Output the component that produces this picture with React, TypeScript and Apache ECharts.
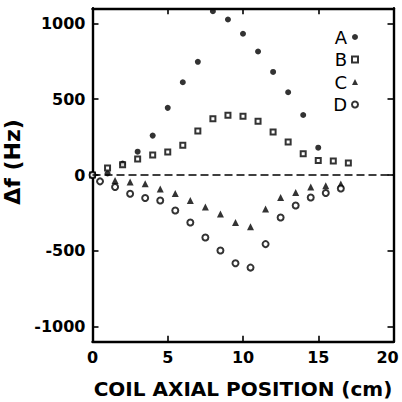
import React, { useEffect, useRef } from "react";
import * as echarts from "echarts";

const seriesNames = ["A", "B", "C", "D"];
const aPos = [0, 1, 2, 3, 4, 5, 6, 7, 8, 9, 10, 11, 12, 13, 14, 15];
const aVal = [0, 10, 75, 154, 260, 443, 612, 747, 1081, 1026, 932, 815, 680, 546, 396, 180];
const bPos = [0, 1, 2, 3, 4, 5, 6, 7, 8, 9, 10, 11, 12, 13, 14, 15, 16, 17];
const bVal = [0, 46, 68, 106, 132, 152, 196, 291, 372, 394, 387, 354, 284, 218, 141, 96, 92, 79];
const cPos = [1.5, 2.5, 3.5, 4.5, 5.5, 6.5, 7.5, 8.5, 9.5, 10.5, 11.5, 12.5, 13.5, 14.5, 15.5, 16.5];
const cVal = [-36, -46, -57, -93, -122, -168, -211, -258, -313, -342, -225, -148, -115, -79, -71, -59];
const dPos = [0, 0.5, 1.5, 2.5, 3.5, 4.5, 5.5, 6.5, 7.5, 8.5, 9.5, 10.5, 11.5, 12.5, 13.5, 14.5, 15.5, 16.5];
const dVal = [0, -42, -79, -124, -152, -168, -234, -313, -412, -498, -582, -611, -456, -280, -201, -148, -119, -89];
const yTicks = [-1000, -500, 0, 500, 1000];
const xTicks = [0, 5, 10, 15, 20];

const pair = (xs: number[], ys: number[]) => xs.map((x, i) => [x, ys[i]]);

export default function App() {
  const ref = useRef<HTMLDivElement>(null);
  useEffect(() => {
    if (!ref.current) return;
    const chart = echarts.init(ref.current, null, { renderer: "svg" });
    const font = "DejaVu Sans";
    const tickStyle = { lineStyle: { color: "#000", width: 1.6 } };
    const axisLine = { show: true, onZero: false, lineStyle: { color: "#000", width: 2.4 } };
    const fmt = (v: number) => String(v);
    const labelStyle = { fontFamily: font, fontSize: 16, fontWeight: "bold", color: "#000" };
    chart.setOption({
      animation: false,
      backgroundColor: "#fff",
      grid: { left: 92.5, right: 8.5, top: 8.3, bottom: 60.3, show: false, containLabel: false, outerBoundsMode: "none" },
      legend: {
        orient: "vertical",
        right: 38,
        top: 22,
        align: "right",
        itemWidth: 6,
        itemHeight: 6,
        itemGap: 2.5,
        data: seriesNames,
        textStyle: { fontFamily: font, fontSize: 18, color: "#000", lineHeight: 20 },
      },
      xAxis: [
        {
          type: "value",
          min: 0,
          max: 20,
          interval: 5,
          name: "COIL AXIAL POSITION (cm)",
          nameLocation: "middle",
          nameGap: 36,
          nameTextStyle: { fontFamily: font, fontSize: 20, fontWeight: "bold", color: "#000", lineHeight: 22 },
          axisLine,
          axisTick: { show: true, inside: true, length: 6, ...tickStyle, customValues: xTicks },
          axisLabel: {
            ...labelStyle,
            margin: 8,
            customValues: xTicks,
            formatter: (v: number) => (v === 20 ? "{r|" + v + "}" : String(v)),
            rich: { r: { ...labelStyle, padding: [0, 12, 0, 0] } },
          },
          splitLine: { show: false },
        },
        {
          type: "value",
          position: "top",
          min: 0,
          max: 20,
          interval: 5,
          axisLine,
          axisTick: { show: true, inside: true, length: 6, ...tickStyle },
          axisLabel: { show: false },
          splitLine: { show: false },
        },
      ],
      yAxis: [
        {
          type: "value",
          min: -1100,
          max: 1100,
          name: "Δf (Hz)",
          nameLocation: "middle",
          nameRotate: 90,
          nameGap: 56,
          nameTextStyle: { fontFamily: font, fontSize: 22, fontWeight: "bold", color: "#000", padding: [0, 0, 0, 26] },
          axisLine,
          axisTick: { show: true, inside: true, length: 6, ...tickStyle, customValues: yTicks },
          axisLabel: { ...labelStyle, margin: 7, customValues: yTicks, formatter: fmt },
          splitLine: { show: false },
        },
        {
          type: "value",
          position: "right",
          min: -1100,
          max: 1100,
          axisLine,
          axisTick: { show: true, inside: true, length: 6, ...tickStyle, customValues: yTicks },
          axisLabel: { show: false },
          splitLine: { show: false },
        },
      ],
      series: [
        {
          name: "A",
          type: "scatter",
          symbol: "circle",
          symbolSize: 6,
          itemStyle: { color: "#000" },
          data: pair(aPos, aVal),
          markLine: {
            silent: true,
            symbol: "none",
            label: { show: false },
            lineStyle: { color: "#000", type: [8, 4], width: 1.6 },
            data: [{ yAxis: 0 }],
          },
        },
        {
          name: "B",
          type: "scatter",
          symbol: "emptyRect",
          symbolSize: 5,
          itemStyle: { color: "#000", borderColor: "#000", borderWidth: 1.6 },
          data: pair(bPos, bVal),
        },
        {
          name: "C",
          type: "scatter",
          symbol: "triangle",
          symbolSize: 7,
          itemStyle: { color: "#000" },
          data: pair(cPos, cVal),
        },
        {
          name: "D",
          type: "scatter",
          symbol: "emptyCircle",
          symbolSize: 6,
          itemStyle: { color: "#000", borderColor: "#000", borderWidth: 1.8 },
          data: pair(dPos, dVal),
        },
      ],
    });
    return () => chart.dispose();
  }, []);
  return <div ref={ref} style={{ width: 402, height: 402, position: "absolute", left: 0, top: 0 }} />;
}
